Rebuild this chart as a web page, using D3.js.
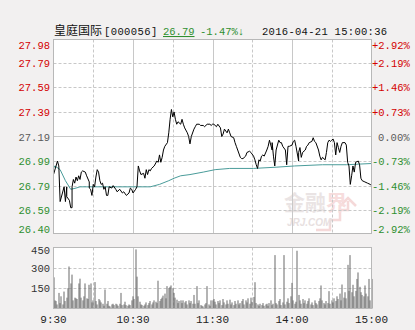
<!DOCTYPE html>
<html>
<head>
<meta charset="utf-8">
<script src="https://cdn.jsdelivr.net/npm/d3@7"></script>
<style>
  html, body { margin: 0; padding: 0; background: #f2f0f0; }
  svg { display: block; }
  .num { font-family: "Liberation Mono", "DejaVu Sans Mono", monospace; font-size: 10.5px; }
</style>
</head>
<body>
<svg id="chart"></svg>
<script>
// stock header
var stockName = "皇庭国际";
var stockCode = "[000056]";
var lastPrice = "26.79";
var lastChange = "-1.47%↓";
var stampText = "2016-04-21 15:00:36";
var prevClose = 27.19;

// axis labels
var priceTicks = [27.98, 27.79, 27.59, 27.39, 27.19, 26.99, 26.79, 26.59, 26.40];
var pctTicks = ["+2.92%", "+2.19%", "+1.46%", "+0.73%", "0.00%", "-0.73%", "-1.46%", "-2.19%", "-2.92%"];
var volTicks = [450, 300, 150];
var timeLabels = ["9:30", "10:30", "11:30", "14:00", "15:00"];
var timeTickMin = [0, 60, 120, 180, 240];
var gridMin = [30, 60, 90, 120, 150, 180, 210]; // vertical grid lines (minutes from open)

// price line: minute from open (11:30 and 13:00 share 120), price
var priceMin = [0, 3, 4, 5, 8, 9, 10, 10, 12, 13, 14, 14, 15, 16, 17, 18, 19, 20, 21, 22,
    24, 25, 27, 27, 28, 29, 30, 31, 32, 33, 34, 35, 36, 37, 38, 39, 40, 41, 42, 44,
    45, 47, 48, 50, 52, 53, 55, 57, 58, 59, 60, 62, 63, 64, 65, 66, 68, 69, 70, 71,
    72, 73, 74, 76, 78, 79, 80, 81, 82, 83, 84, 86, 87, 88, 89, 90, 91, 92, 93, 94,
    96, 97, 98, 99, 101, 102, 103, 104, 106, 107, 108, 110, 111, 113, 114, 116, 118, 119, 120,
    121, 123, 124, 126, 127, 128, 129, 131, 132, 133, 134, 136, 137, 138, 139, 141, 142, 143,
    145, 146, 148, 149, 151, 152, 153, 154, 155, 156, 157, 158, 159, 161, 162, 163, 165, 165,
    166, 167, 168, 170, 171, 172, 173, 175, 176, 177, 178, 180, 181, 182, 183, 185, 185, 186,
    187, 188, 190, 191, 192, 193, 195, 196, 197, 198, 200, 201, 202, 203, 205, 206, 207, 208,
    209, 210, 211, 212, 213, 214, 215, 216, 217, 218, 220, 221, 222, 223, 224, 225, 226, 227,
    228, 230, 231, 232, 233, 235, 237, 239, 240];
var priceVal = [26.88, 26.99, 26.95, 26.66, 26.78, 26.66, 26.78, 26.70, 26.67, 26.61, 26.61, 26.78, 26.84, 26.81, 26.86, 26.83, 26.87, 26.84, 26.90, 26.91,
    26.90, 26.87, 26.82, 26.77, 26.76, 26.71, 26.80, 26.78, 26.86, 26.92, 26.90, 26.83, 26.80, 26.81, 26.76, 26.78, 26.71, 26.71, 26.78, 26.77,
    26.79, 26.76, 26.74, 26.76, 26.73, 26.74, 26.71, 26.73, 26.77, 26.76, 26.73, 26.76, 26.78, 26.95, 26.91, 26.88, 26.89, 26.85, 26.92, 26.88,
    26.92, 26.91, 26.93, 26.95, 26.99, 26.98, 27.04, 26.98, 27.02, 27.08, 27.11, 27.14, 27.22, 27.33, 27.41, 27.35, 27.39, 27.33, 27.29, 27.31,
    27.29, 27.33, 27.29, 27.26, 27.22, 27.19, 27.13, 27.19, 27.25, 27.27, 27.29, 27.29, 27.28, 27.28, 27.27, 27.29, 27.29, 27.28, 27.29,
    27.29, 27.27, 27.29, 27.26, 27.19, 27.21, 27.25, 27.22, 27.25, 27.22, 27.19, 27.18, 27.14, 27.11, 27.08, 27.02, 27.01, 27.01,
    27.03, 27.06, 27.07, 27.06, 27.03, 27.00, 26.96, 26.93, 27.00, 26.99, 27.03, 27.04, 27.03, 27.08, 27.11, 27.16, 27.08, 27.14, 27.03, 26.95,
    27.08, 27.16, 27.14, 27.14, 27.11, 27.08, 26.96, 27.11, 27.11, 27.12, 27.15, 27.16, 27.11, 26.99, 27.06, 27.10, 27.02, 27.06,
    27.08, 27.11, 27.12, 27.14, 27.15, 27.18, 27.15, 27.14, 27.08, 27.03, 27.00, 27.02, 27.00, 27.06, 27.14, 27.16, 27.15, 27.16,
    27.17, 27.14, 27.04, 27.14, 27.10, 27.06, 27.11, 27.14, 27.14, 27.12, 26.98, 26.95, 26.80, 26.87, 26.95, 26.90, 26.98, 26.99,
    26.96, 26.85, 26.83, 26.82, 26.81, 26.80, 26.79, 26.79, 26.79];

// average price line
var avgMin = [0, 1, 5, 9, 13, 17, 20, 25, 58, 73, 80, 87, 91, 96, 103, 113, 122, 133, 151, 168, 182, 203, 221, 240];
var avgVal = [26.93, 26.95, 26.92, 26.83, 26.76, 26.77, 26.78, 26.78, 26.78, 26.78, 26.80, 26.83, 26.85, 26.87, 26.88, 26.90, 26.92, 26.93, 26.93, 26.94, 26.95, 26.96, 26.96, 26.97];

// volume per minute (lots), 241 bars
var volume = [
    230, 60, 55, 30, 115, 40, 90, 30, 125, 55,
    80, 150, 310, 185, 250, 60, 80, 75, 70, 185,
    220, 80, 60, 90, 185, 75, 70, 175, 185, 45,
    60, 195, 55, 30, 70, 60, 45, 35, 20, 140,
    35, 55, 20, 15, 30, 35, 25, 35, 30, 20,
    35, 115, 25, 30, 50, 25, 20, 30, 25, 60,
    90, 70, 436, 235, 90, 50, 30, 25, 20, 30,
    45, 25, 40, 55, 30, 45, 60, 50, 40, 205,
    55, 70, 80, 95, 110, 75, 165, 150, 160, 170,
    150, 115, 80, 65, 40, 55, 60, 40, 60, 45,
    55, 30, 60, 40, 55, 35, 100, 35, 165, 40,
    60, 25, 20, 15, 30, 40, 165, 30, 20, 60,
    60, 70, 50, 30, 55, 40, 60, 25, 70, 45,
    30, 60, 35, 65, 30, 45, 25, 55, 35, 60,
    30, 40, 55, 70, 30, 60, 45, 75, 35, 80,
    50, 85, 194, 40, 30, 20, 35, 25, 40, 20,
    30, 35, 20, 40, 60, 25, 35, 394, 40, 30,
    55, 70, 25, 45, 394, 30, 50, 75, 40, 90,
    189, 60, 35, 50, 426, 100, 60, 35, 70, 40,
    60, 35, 55, 75, 30, 45, 25, 60, 40, 30,
    55, 75, 170, 60, 40, 30, 55, 40, 128, 35,
    60, 45, 75, 55, 90, 70, 110, 60, 177, 80,
    120, 75, 322, 130, 394, 120, 175, 90, 130, 218,
    266, 160, 120, 100, 90, 170, 110, 90, 218, 60,
    218];

var W = 415, H = 330;
var red = "#d40000", green = "#2f8f2f", grey = "#5a5a5a", gridColor = "#c8c8c8";

var svg = d3.select('#chart').attr('width', W).attr('height', H);

var x = d3.scaleLinear().domain([0, 240]).range([53.5, 371.5]);
var y = d3.scaleLinear().domain([26.40, 27.98]).range([233.5, 39.5]);
var yVol = d3.scaleLinear().domain([0, 450]).range([308.5, 247.5]);

function labelColor(v) {
    if (Math.abs(v - prevClose) < 0.005) return grey;
    return v > prevClose ? red : green;
}

// plot backgrounds
svg.append('rect').attr('x', x(0)).attr('y', y(27.98)).attr('width', x(240) - x(0)).attr('height', y(26.40) - y(27.98)).attr('fill', '#fff');
svg.append('rect').attr('x', x(0)).attr('y', yVol(450)).attr('width', x(240) - x(0)).attr('height', yVol(0) - yVol(450)).attr('fill', '#fff');

// watermark
var wm = svg.append('g').attr('opacity', 0.6);
wm.append('path')
    .attr('d', 'M316,230 L330,230 L330,220 L340,220 L340,210 L348,210 L348,201 M340,206 L348,198 L356,206')
    .attr('fill', 'none').attr('stroke', '#f0c0c0').attr('stroke-width', 2.5);
wm.append('text').attr('x', 284).attr('y', 210).attr('font-family', 'Noto Sans CJK SC').attr('font-weight', 'bold')
    .attr('font-size', 21).attr('fill', '#ddd3d3').text('金融');
wm.append('text').attr('x', 326).attr('y', 210).attr('font-family', 'Noto Sans CJK SC').attr('font-weight', 'bold')
    .attr('font-size', 21).attr('fill', '#f2c8c8').text('界');
wm.append('text').attr('x', 287).attr('y', 226).attr('font-family', 'Liberation Sans').attr('font-style', 'italic')
    .attr('font-weight', 'bold').attr('font-size', 10).attr('fill', '#d8cccc').text('JRJ.COM');

// horizontal grid, main chart
svg.append('g').selectAll('line')
    .data(priceTicks.slice(1, -1))
    .enter().append('line')
    .attr('x1', x(0)).attr('x2', x(240))
    .attr('y1', function (d) { return Math.round(y(d)) + 0.5; })
    .attr('y2', function (d) { return Math.round(y(d)) + 0.5; })
    .attr('stroke', gridColor)
    .attr('stroke-dasharray', function (d) { return d === prevClose ? null : '3,2'; });

// vertical grid, both charts
[[y(27.98), y(26.40)], [yVol(450), yVol(0)]].forEach(function (r) {
    svg.append('g').selectAll('line')
        .data(gridMin)
        .enter().append('line')
        .attr('x1', function (d) { return Math.round(x(d)) + 0.5; })
        .attr('x2', function (d) { return Math.round(x(d)) + 0.5; })
        .attr('y1', r[0]).attr('y2', r[1])
        .attr('stroke', gridColor)
        .attr('stroke-dasharray', function (d) { return d % 60 === 0 ? null : '3,2'; });
});

// volume grid
svg.append('g').selectAll('line')
    .data([300, 150])
    .enter().append('line')
    .attr('x1', x(0)).attr('x2', x(240))
    .attr('y1', function (d) { return Math.round(yVol(d)) + 0.5; })
    .attr('y2', function (d) { return Math.round(yVol(d)) + 0.5; })
    .attr('stroke', gridColor).attr('stroke-dasharray', '3,2');

// volume bars
svg.append('g').selectAll('rect')
    .data(volume)
    .enter().append('rect')
    .attr('x', function (d, i) { return Math.round(x(i)) - 0.5; })
    .attr('y', function (d) { return yVol(d); })
    .attr('width', 1)
    .attr('height', function (d) { return yVol(0) - yVol(d); })
    .attr('fill', '#6a6a6a');

// average line
var avgLine = d3.line()
    .x(function (d, i) { return x(avgMin[i]); })
    .y(function (d) { return y(d); });
svg.append('path').datum(avgVal).attr('d', avgLine)
    .attr('fill', 'none').attr('stroke', '#4a9c9a').attr('stroke-width', 1);

// price line
var priceLine = d3.line()
    .x(function (d, i) { return x(priceMin[i]); })
    .y(function (d) { return y(d); });
svg.append('path').datum(priceVal).attr('d', priceLine)
    .attr('fill', 'none').attr('stroke', '#000').attr('stroke-width', 1);

// plot borders
svg.append('rect').attr('x', x(0)).attr('y', y(27.98)).attr('width', x(240) - x(0)).attr('height', y(26.40) - y(27.98))
    .attr('fill', 'none').attr('stroke', '#b8b8b8');
svg.append('rect').attr('x', x(0)).attr('y', yVol(450)).attr('width', x(240) - x(0)).attr('height', yVol(0) - yVol(450))
    .attr('fill', 'none').attr('stroke', '#b8b8b8');

// left price labels
var n = priceTicks.length;
function labelY(d, i) {
    var v = y(d) + 4;
    if (i === 0) v = y(d) + 9;
    if (i === n - 1) v = y(d) - 1;
    return v;
}
svg.append('g').selectAll('text')
    .data(priceTicks)
    .enter().append('text')
    .attr('class', 'num')
    .attr('x', 50).attr('y', labelY)
    .attr('text-anchor', 'end')
    .attr('fill', labelColor)
    .text(function (d) { return d.toFixed(2); });

// right percent labels
svg.append('g').selectAll('text')
    .data(pctTicks)
    .enter().append('text')
    .attr('class', 'num')
    .attr('x', function (d) { return d === '0.00%' ? 378 : 372; })
    .attr('y', function (d, i) { return labelY(priceTicks[i], i); })
    .attr('fill', function (d, i) { return labelColor(priceTicks[i]); })
    .text(function (d) { return d; });

// volume labels
svg.append('g').selectAll('text')
    .data(volTicks)
    .enter().append('text')
    .attr('class', 'num')
    .attr('x', 50)
    .attr('y', function (d, i) { return i === 0 ? yVol(d) + 6 : yVol(d) + 4; })
    .attr('text-anchor', 'end')
    .attr('fill', '#333')
    .text(function (d) { return d; });

// time labels
svg.append('g').selectAll('text')
    .data(timeLabels)
    .enter().append('text')
    .attr('x', function (d, i) { return x(timeTickMin[i]); })
    .attr('y', 323)
    .attr('text-anchor', 'middle')
    .attr('font-family', 'Liberation Mono, monospace')
    .attr('font-size', 11)
    .attr('fill', '#222')
    .text(function (d) { return d; });

// header
var head = svg.append('g').attr('font-size', 12);
head.append('text').attr('x', 54).attr('y', 35).attr('font-family', 'Noto Sans CJK SC').attr('fill', '#111').text(stockName);
head.append('text').attr('x', 104).attr('y', 35).attr('class', 'num').attr('fill', '#111').attr('font-size', 11)
    .attr('letter-spacing', 0.4).text(stockCode);
head.append('text').attr('x', 163).attr('y', 35).attr('class', 'num').attr('fill', green).attr('font-size', 11)
    .attr('text-decoration', 'underline').text(lastPrice);
head.append('text').attr('x', 200).attr('y', 35).attr('class', 'num').attr('fill', green).attr('font-size', 11).text(lastChange);
head.append('text').attr('x', 262).attr('y', 35).attr('class', 'num').attr('fill', '#111').attr('font-size', 11)
    .attr('letter-spacing', 0.3).text(stampText);
</script>
</body>
</html>
